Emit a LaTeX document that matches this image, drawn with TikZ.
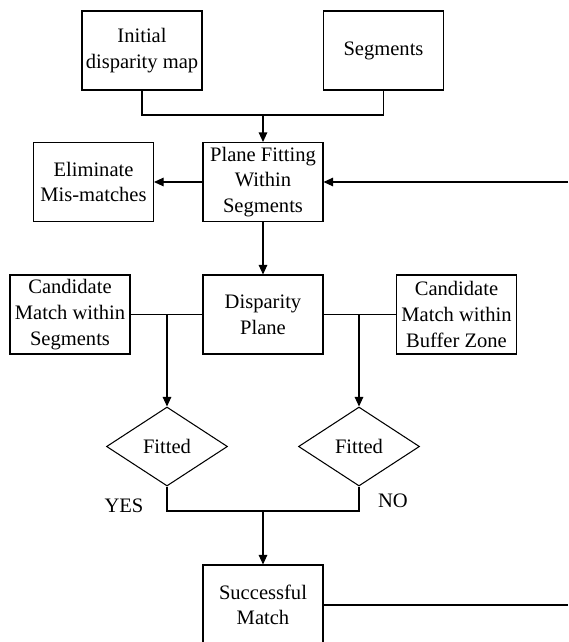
\documentclass[tikz,border=0pt]{standalone}
\usepackage{fontspec}
\setmainfont{Liberation Serif}
\usetikzlibrary{arrows.meta,shapes.geometric,positioning}
\tikzset{stepbox/.style={draw,rectangle,minimum width=2.4cm,minimum height=1.58cm,inner sep=0,align=center},
    fitcheck/.style={draw,diamond,minimum width=2.42cm,minimum height=1.58cm,inner sep=0,aspect=1.5},
    flowarrow/.style={-{Triangle[length=0.19cm,width=0.17cm]}},
    every node/.style={font=\fontsize{11.7}{14.6}\selectfont},
    every path/.style={line width=0.6pt}}

\begin{document}
\begin{tikzpicture}
\useasboundingbox (0,0) rectangle (11.36,-12.84);

\node (init) [stepbox] at (2.84,-1.01) {Initial\\disparity map};
\node (seg) [stepbox] at (7.67,-1.01) {Segments};

\node (fit) [stepbox] at (5.26,-3.64) {Plane Fitting\\Within\\Segments};
\node (elim) [stepbox] at (1.87,-3.64) {Eliminate\\Mis-matches};

\node (disp) [stepbox] at (5.26,-6.29) {Disparity\\Plane};
\node (candL) [stepbox] at (1.40,-6.29) {Candidate\\Match within\\Segments};
\node (candR) [stepbox] at (9.13,-6.29) {Candidate\\Match within\\Buffer Zone};

\node (fitL) [fitcheck] at (3.34,-8.93) {Fitted};
\node (fitR) [fitcheck] at (7.18,-8.93) {Fitted};
\node (yes) at (2.48,-10.11) {YES};
\node (no) at (7.86,-10.01) {NO};

\node (succ) [stepbox,minimum height=1.6cm] at (5.26,-12.10) {Successful\\Match};

\coordinate (topjoin) at (5.26,-2.30);
\coordinate (botjoin) at (5.26,-10.22);
\coordinate (feedin) at (11.36,-3.64);
\coordinate (feedout) at (11.36,-12.10);

\draw (init.south) |- (topjoin) -| (seg.south);
\draw [flowarrow] (topjoin) -- (fit.north);
\draw [flowarrow] (fit.west) -- (elim.east);
\draw [flowarrow] (feedin) -- (fit.east);
\draw [flowarrow] (fit.south) -- (disp.north);

\draw (candL.east) -- (disp.west);
\draw (disp.east) -- (candR.west);
\draw [flowarrow] (fitL.north |- disp.west) -- (fitL.north);
\draw [flowarrow] (fitR.north |- disp.east) -- (fitR.north);

\draw (fitL.south) |- (botjoin) -| (fitR.south);
\draw [flowarrow] (botjoin) -- (succ.north);
\draw (succ.east) -- (feedout);

\end{tikzpicture}
\end{document}
